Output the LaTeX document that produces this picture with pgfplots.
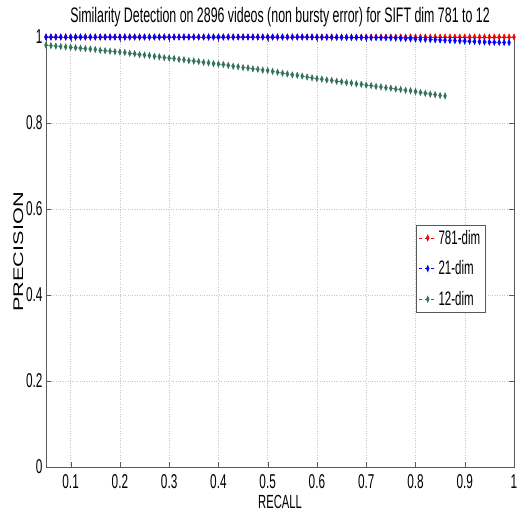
\documentclass[border=0pt]{standalone}
\usepackage{fontspec}
\setmainfont{Liberation Sans}[FakeStretch=0.59]
\newfontfamily\ylfont{Liberation Sans}[FakeStretch=1.55]
\usepackage{pgfplots}
\pgfplotsset{compat=1.18}
\definecolor{teal12}{RGB}{52,115,90}
\begin{document}
\begin{tikzpicture}
\begin{axis}[
  scale only axis, width=468pt, height=430pt,
  xmin=0.05, xmax=1, ymin=0, ymax=1,
  xtick={0.1,0.2,0.3,0.4,0.5,0.6,0.7,0.8,0.9,1},
  xticklabels={0.1,0.2,0.3,0.4,0.5,0.6,0.7,0.8,0.9,1},
  ytick={0,0.2,0.4,0.6,0.8,1},
  yticklabels={0,0.2,0.4,0.6,0.8,1},
  /pgf/number format/assume math mode=true,
  tick align=inside, major tick length=5pt,
  tick style={gray!70!black},
  grid=major, grid style={dotted, gray!45},
  axis line style={gray!70!black},
  ticklabel style={font=\fontsize{20}{20}\selectfont},
  xticklabel style={yshift=-4pt},
  title={Similarity Detection on 2896 videos (non bursty error) for SIFT dim 781 to 12},
  title style={font=\fontsize{21}{21}\selectfont, yshift=1pt},
  xlabel={RECALL}, xlabel style={font=\fontsize{19}{19}\selectfont, yshift=0pt},
  ylabel={PRECISION}, ylabel style={font=\ylfont\fontsize{14}{14}\selectfont, yshift=-4pt},
  legend style={at={(rel axis cs:0.79,0.563)}, anchor=north west, draw=gray!70!black,
    font=\fontsize{19.5}{19.5}\selectfont, row sep=11pt, inner sep=3pt},
  legend cell align=left,
  every axis plot/.append style={dashed, line width=0.6pt, mark=diamond*, mark size=3pt, mark options={solid, xscale=0.6}},
]
\addplot[red] coordinates {
(0.05,1)(0.06,1)(0.07,1)(0.08,1)(0.09,1)(0.10,1)(0.11,1)(0.12,1)(0.13,1)(0.14,1)
(0.15,1)(0.16,1)(0.17,1)(0.18,1)(0.19,1)(0.20,1)(0.21,1)(0.22,1)(0.23,1)(0.24,1)
(0.25,1)(0.26,1)(0.27,1)(0.28,1)(0.29,1)(0.30,1)(0.31,1)(0.32,1)(0.33,1)(0.34,1)
(0.35,1)(0.36,1)(0.37,1)(0.38,1)(0.39,1)(0.40,1)(0.41,1)(0.42,1)(0.43,1)(0.44,1)
(0.45,1)(0.46,1)(0.47,1)(0.48,1)(0.49,1)(0.50,1)(0.51,1)(0.52,1)(0.53,1)(0.54,1)
(0.55,1)(0.56,1)(0.57,1)(0.58,1)(0.59,1)(0.60,1)(0.61,1)(0.62,1)(0.63,1)(0.64,1)
(0.65,1)(0.66,1)(0.67,1)(0.68,1)(0.69,1)(0.70,1)(0.71,1)(0.72,1)(0.73,1)(0.74,1)
(0.75,1)(0.76,1)(0.77,1)(0.78,1)(0.79,1)(0.80,1)(0.81,1)(0.82,1)(0.83,1)(0.84,1)
(0.85,1)(0.86,1)(0.87,1)(0.88,1)(0.89,1)(0.90,1)(0.91,1)(0.92,1)(0.93,1)(0.94,1)
(0.95,1)(0.96,1)(0.97,1)(0.98,1)(0.99,1)(1.00,1)
};
\addlegendentry{781-dim}
\addplot[blue] coordinates {
(0.05,1)(0.06,1)(0.07,1)(0.08,1)(0.09,1)(0.10,1)(0.11,1)(0.12,1)(0.13,1)(0.14,1)
(0.15,1)(0.16,1)(0.17,1)(0.18,1)(0.19,1)(0.20,1)(0.21,1)(0.22,1)(0.23,1)(0.24,1)
(0.25,1)(0.26,1)(0.27,1)(0.28,1)(0.29,1)(0.30,1)(0.31,1)(0.32,1)(0.33,1)(0.34,1)
(0.35,1)(0.36,1)(0.37,1)(0.38,1)(0.39,1)(0.40,1)(0.41,1)(0.42,1)(0.43,1)(0.44,1)
(0.45,1)(0.46,1)(0.47,1)(0.48,1)(0.49,1)(0.50,1)(0.51,1)(0.52,1)(0.53,1)(0.54,1)
(0.55,1)(0.56,1)(0.57,1)(0.58,1)(0.59,1)(0.60,0.9995)(0.61,0.9995)(0.62,0.9994)(0.63,0.9993)(0.64,0.9992)
(0.65,0.9991)(0.66,0.999)(0.67,0.9989)(0.68,0.9988)(0.69,0.9987)(0.70,0.9986)(0.71,0.9985)(0.72,0.9984)(0.73,0.9983)(0.74,0.9982)
(0.75,0.998)(0.76,0.9975)(0.77,0.997)(0.78,0.9965)(0.79,0.996)(0.80,0.9955)(0.81,0.995)(0.82,0.9945)(0.83,0.994)(0.84,0.9935)
(0.85,0.993)(0.86,0.9925)(0.87,0.992)(0.88,0.9915)(0.89,0.991)(0.90,0.9905)(0.91,0.990)(0.92,0.9895)(0.93,0.989)(0.94,0.9885)
(0.95,0.988)(0.96,0.9877)(0.97,0.9874)(0.98,0.9872)(0.99,0.987)
};
\addlegendentry{21-dim}
\addplot[teal12] coordinates {
(0.05,0.981)(0.06,0.980)(0.07,0.979)(0.08,0.978)(0.09,0.977)(0.10,0.976)(0.11,0.975)(0.12,0.974)(0.13,0.973)(0.14,0.972)
(0.15,0.971)(0.16,0.969)(0.17,0.968)(0.18,0.967)(0.19,0.966)(0.20,0.965)(0.21,0.964)(0.22,0.962)(0.23,0.961)(0.24,0.959)
(0.25,0.958)(0.26,0.957)(0.27,0.955)(0.28,0.954)(0.29,0.952)(0.30,0.951)(0.31,0.950)(0.32,0.948)(0.33,0.947)(0.34,0.945)
(0.35,0.944)(0.36,0.943)(0.37,0.941)(0.38,0.940)(0.39,0.938)(0.40,0.937)(0.41,0.936)(0.42,0.934)(0.43,0.932)(0.44,0.931)
(0.45,0.929)(0.46,0.928)(0.47,0.926)(0.48,0.925)(0.49,0.923)(0.50,0.922)(0.51,0.920)(0.52,0.918)(0.53,0.916)(0.54,0.914)
(0.55,0.912)(0.56,0.911)(0.57,0.909)(0.58,0.907)(0.59,0.905)(0.60,0.903)(0.61,0.902)(0.62,0.900)(0.63,0.899)(0.64,0.897)
(0.65,0.896)(0.66,0.894)(0.67,0.893)(0.68,0.891)(0.69,0.890)(0.70,0.888)(0.71,0.887)(0.72,0.885)(0.73,0.884)(0.74,0.882)
(0.75,0.881)(0.76,0.879)(0.77,0.878)(0.78,0.876)(0.79,0.875)(0.80,0.873)(0.81,0.871)(0.82,0.869)(0.83,0.867)(0.84,0.866)
(0.85,0.864)(0.86,0.863)
};
\addlegendentry{12-dim}
\end{axis}
\path (current axis.south west) ++(-46pt,-53pt) coordinate (bbA);
\path (current axis.north east) ++(10pt,37pt) coordinate (bbB);
\pgfresetboundingbox
\path[use as bounding box] (bbA) rectangle (bbB);
\end{tikzpicture}
\end{document}
